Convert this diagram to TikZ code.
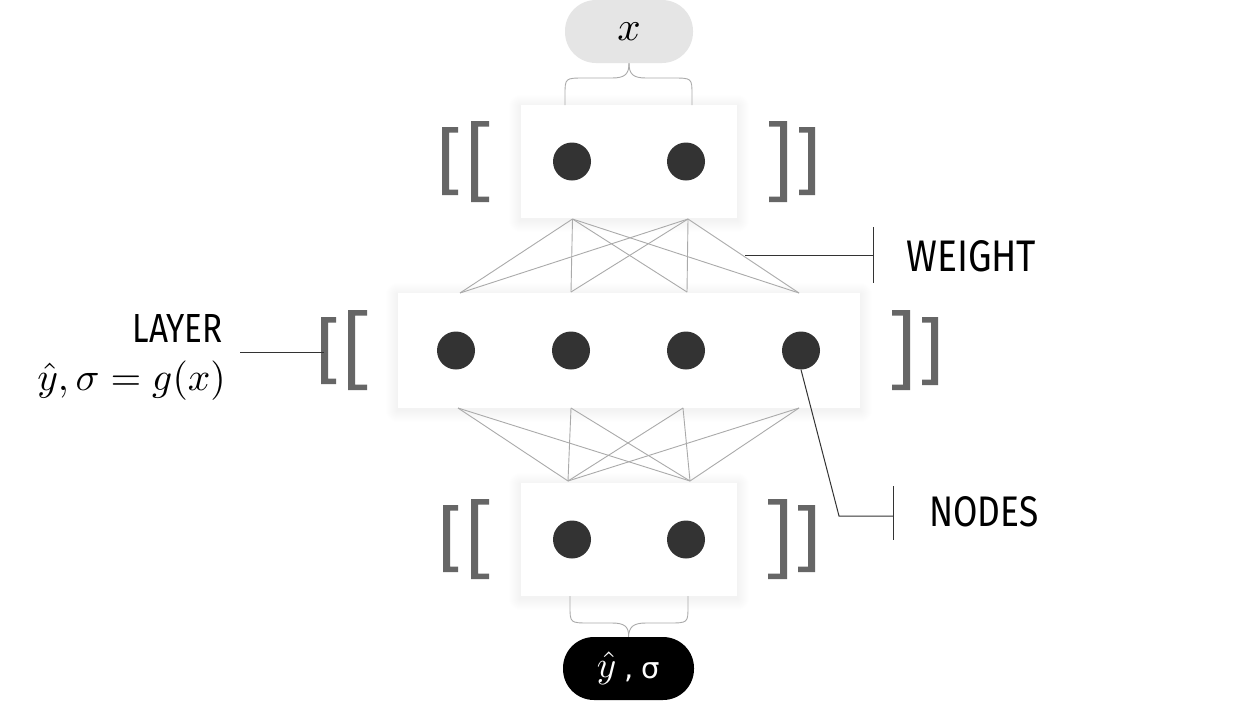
\documentclass[tikz,border=0pt]{standalone}
\usepackage{fontspec}
\usepackage{graphicx}
\newfontfamily\labfont{Fira Sans}
\newfontfamily\dejafont{DejaVu Sans}
\usetikzlibrary{calc,backgrounds}
\definecolor{dotc}{HTML}{333333}
\definecolor{brkc}{HTML}{666666}
\definecolor{wgt}{HTML}{AAAAAA}
\definecolor{lblc}{HTML}{333333}
\definecolor{pillc}{HTML}{E5E5E5}
\tikzset{
  layerbox/.style={rectangle, fill=white, draw=none, inner sep=0pt},
  softshade/.style={fill=black, opacity=0.0045},
  neuron/.style={circle, fill=dotc, draw=none, minimum size=38pt, inner sep=0pt},
  pillbox/.style={rectangle, rounded corners=31pt, inner sep=0pt, minimum width=128pt, minimum height=63pt},
  weightline/.style={draw=wgt, line width=0.9pt},
  braceline/.style={draw=wgt, line width=0.9pt},
  labelline/.style={draw=lblc, line width=1pt},
  brk/.style={fill=brkc},
  labeltext/.style={inner sep=0pt, text=black}
}
\newcommand\LBr[4]{\fill[brk] (#1,#2) -- ++(#3,0) -- ++(0,5.5) -- ++({7-#3},0) -- ++(0,{#4-11}) -- ++({#3-7},0) -- ++(0,5.5) -- ++({-#3},0) -- cycle;}
\newcommand\RBr[4]{\fill[brk] (#1,#2) -- ++({-#3},0) -- ++(0,5.5) -- ++({#3-7},0) -- ++(0,{#4-11}) -- ++({7-#3},0) -- ++(0,5.5) -- ++(#3,0) -- cycle;}
\newcommand\SoftShadow[1]{\foreach \i in {1,...,12}{\fill[softshade, rounded corners={\i pt}] ($(#1.south west)+(-\i,{\i+2})$) rectangle ($(#1.north east)+(\i,{-\i+2})$);}}
\begin{document}
\begin{tikzpicture}[x=1pt,y=-1pt]
\useasboundingbox (0,0) rectangle (1258,702);

% layer boxes
\node[layerbox, minimum width=216pt, minimum height=113pt] (top) at (629,161.5) {};
\node[layerbox, minimum width=462pt, minimum height=115pt] (mid) at (629,350.5) {};
\node[layerbox, minimum width=216pt, minimum height=113pt] (bot) at (629,539.5) {};
\begin{scope}[on background layer]
\fill[white] (0,0) rectangle (1258,702);
\SoftShadow{top}
\SoftShadow{mid}
\SoftShadow{bot}
\end{scope}

% pills
\node[pillbox, fill=pillc] (xin) at (629,31.5) {\scalebox{4.1}{$x$}};
\node[pillbox, fill=black, text=white, minimum width=131pt] (out) at (628.5,668.5) {\raisebox{1pt}{\scalebox{3.7}{$\hat{y}$}}\hspace{8pt}{\dejafont\fontsize{29}{34}\selectfont,\hspace{8pt}σ}};

% braces
\coordinate (tbl) at (565,105);
\coordinate (tbr) at (692,105);
\draw[braceline] (tbl) -- (565,95) .. controls (565,78) and (565,78) .. (585,78) -- (612,78) .. controls (625,78) and (629,74) .. (xin.south);
\draw[braceline] (tbr) -- (692,95) .. controls (692,78) and (692,78) .. (672,78) -- (646,78) .. controls (633,78) and (629,74) .. (xin.south);
\coordinate (bbl) at (570,596);
\coordinate (bbr) at (688,596);
\draw[braceline] (bbl) -- (570,606) .. controls (570,623) and (570,623) .. (590,623) -- (612,623) .. controls (625,623) and (629,627) .. (out.north);
\draw[braceline] (bbr) -- (688,606) .. controls (688,623) and (688,623) .. (668,623) -- (646,623) .. controls (633,623) and (629,627) .. (out.north);

% weight connection points
\coordinate (ta) at (572.5,219);
\coordinate (tb) at (688,219);
\coordinate (ma) at (460,293);
\coordinate (mb) at (571,292);
\coordinate (mc) at (687,292);
\coordinate (md) at (799,293);
\coordinate (na) at (458,408);
\coordinate (nb) at (571,408);
\coordinate (nc) at (683,408);
\coordinate (nd) at (799,408);
\coordinate (ba) at (568,481);
\coordinate (bb) at (690,481);
\foreach \s in {ta,tb}{\foreach \t in {ma,mb,mc,md}{\draw[weightline] (\s) -- (\t);}}
\foreach \s in {na,nb,nc,nd}{\foreach \t in {ba,bb}{\draw[weightline] (\s) -- (\t);}}

% neurons
\node[neuron] (t1) at (572,161.5) {};
\node[neuron] (t2) at (686,161.5) {};
\node[neuron] (m1) at (456,350.5) {};
\node[neuron] (m2) at (571,350.5) {};
\node[neuron] (m3) at (686,350.5) {};
\node[neuron] (m4) at (801,350.5) {};
\node[neuron] (b1) at (572,539.5) {};
\node[neuron] (b2) at (686,539.5) {};

% brackets
\LBr{442}{127}{16}{68}
\LBr{471}{121}{18}{81}
\RBr{787}{121}{18}{81}
\RBr{815}{127}{16}{68}
\LBr{321}{317}{15}{67}
\LBr{348}{310}{19}{80}
\RBr{910}{310}{18}{80}
\RBr{938}{317}{16}{68}
\LBr{443}{505}{15}{67}
\LBr{471}{499}{18}{80}
\RBr{787}{499}{19}{80}
\RBr{815}{505}{17}{67}

% labels
\node[labeltext, anchor=west] (wlab) at (906,256) {\resizebox{130pt}{31pt}{\labfont WEIGHT}};
\node[labeltext, anchor=west] (nlab) at (929,512) {\resizebox{109pt}{30pt}{\labfont NODES}};
\node[labeltext, anchor=east] (llab) at (223,328) {\resizebox{90pt}{28pt}{\labfont LAYER}};
\node[labeltext, anchor=base east] (eq) at (226,390) {\scalebox{3.95}{$\hat{y},\sigma=g(x)$}};

% label connectors
\coordinate (wa) at (745,255);
\coordinate (wb) at (873,255);
\draw[labelline] (wa) -- (wb);
\draw[labelline] (873,227) -- (873,283);
\coordinate (n1) at (839,516);
\coordinate (n2) at (893,516);
\draw[labelline] (m4.south) -- (n1) -- (n2);
\draw[labelline] (893,486) -- (893,540);
\coordinate (la) at (240,352);
\coordinate (lb) at (324,352);
\draw[labelline] (la) -- (lb);
\end{tikzpicture}
\end{document}
